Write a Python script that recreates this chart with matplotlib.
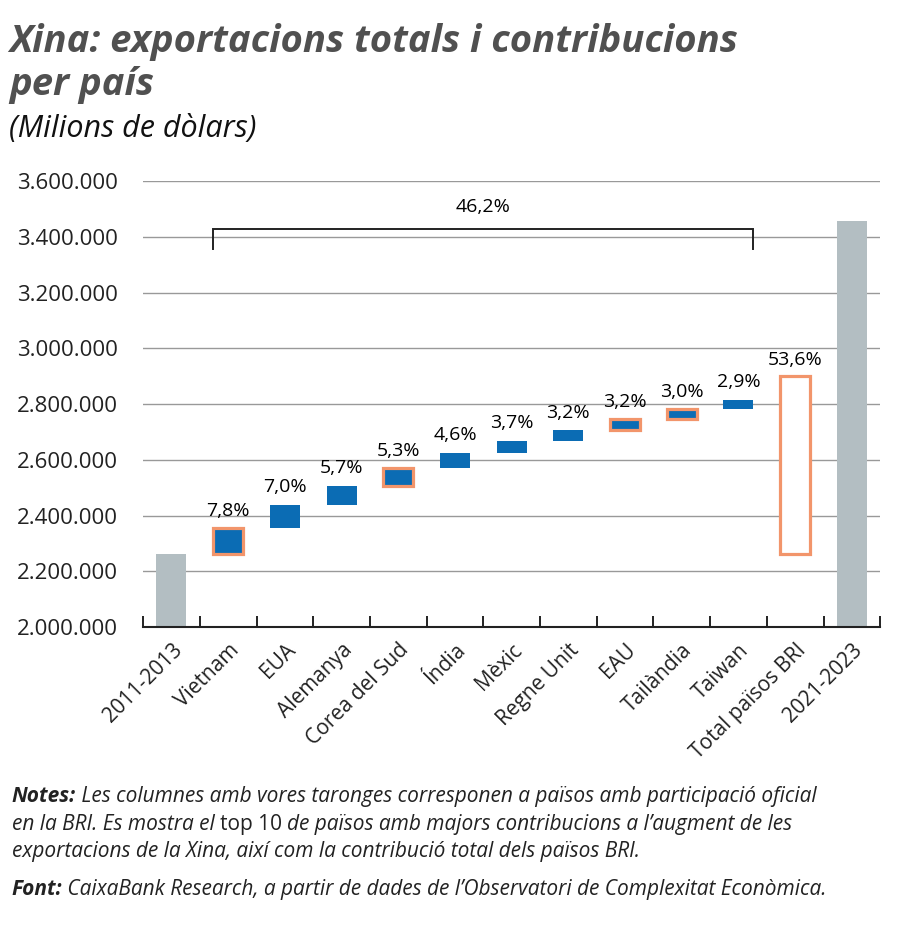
import numpy as np
import matplotlib
matplotlib.use("Agg")
import matplotlib.pyplot as plt
from matplotlib import font_manager

# Dades (milions de dòlars)
categories = ['2011-2013', 'Vietnam', 'EUA', 'Alemanya', 'Corea del Sud', 'Índia',
              'Mèxic', 'Regne Unit', 'EAU', 'Tailàndia', 'Taiwan',
              'Total països BRI', '2021-2023']
start_value = 2262000
end_value = 3456000
countries = categories[1:11]
contrib = [93000, 84000, 68000, 63000, 55000, 44000, 38000, 38000, 36000, 35000]
pct_labels = ['7,8%', '7,0%', '5,7%', '5,3%', '4,6%', '3,7%', '3,2%', '3,2%', '3,0%', '2,9%']
bri_flag = [True, False, False, True, False, False, False, True, True, False]
bri_total = 639000
bri_label = '53,6%'
top10_label = '46,2%'
yticks = [2000000, 2200000, 2400000, 2600000, 2800000, 3000000, 3200000, 3400000, 3600000]

BLUE = '#0b6cb4'
ORANGE = '#f2956b'
GREY = '#b3bec2'

names = {f.name for f in font_manager.fontManager.ttflist}
base_font = 'Open Sans' if 'Open Sans' in names else 'DejaVu Sans'
plt.rcParams['font.family'] = [base_font, 'DejaVu Sans']


def fmt(v):
    return f"{v:,.0f}".replace(',', '.')


fig = plt.figure(figsize=(9, 9.27), dpi=100)
ax = fig.add_axes([0.159, 0.3236, 0.819, 0.4811])

x = np.arange(len(categories))
w = 0.53

# barres inicial i final
ax.bar(x[0], start_value, width=w, color=GREY, zorder=2)
ax.bar(x[-1], end_value, width=w, color=GREY, zorder=2)

# contribucions per país (cascada)
bottoms = start_value + np.concatenate([[0], np.cumsum(contrib)[:-1]])
for i in range(len(countries)):
    xi = x[i + 1]
    if bri_flag[i]:
        ax.bar(xi, contrib[i], bottom=bottoms[i], width=w, color=BLUE,
               edgecolor=ORANGE, linewidth=2.3, zorder=3)
    else:
        ax.bar(xi, contrib[i], bottom=bottoms[i], width=w, color=BLUE, zorder=3)
    ax.annotate(pct_labels[i], (xi, bottoms[i] + contrib[i]), xytext=(0, 6),
                textcoords='offset points', ha='center', va='bottom', fontsize=14)

# total països BRI
ax.bar(x[11], bri_total, bottom=start_value, width=w, color='white',
       edgecolor=ORANGE, linewidth=2.3, zorder=3)
ax.annotate(bri_label, (x[11], start_value + bri_total), xytext=(0, 5),
            textcoords='offset points', ha='center', va='bottom', fontsize=14)

# claudàtor del top 10
xl, xr = x[1] - w / 2, x[10] + w / 2
ax.plot([xl, xl, xr, xr], [3357000, 3428000, 3428000, 3357000], color='#222222',
        lw=1.4, zorder=4, solid_joinstyle='miter')
ax.text((xl + xr) / 2, 3475000, top10_label, ha='center', va='bottom', fontsize=14)

# eixos
ax.set_xlim(-0.5, len(categories) - 0.5)
ax.set_ylim(2000000, 3600000)
ax.set_yticks(yticks)
ax.set_yticklabels([fmt(v) for v in yticks], fontsize=16, color='#222222')
ax.yaxis.grid(True, color='#999999', lw=1)
ax.set_axisbelow(True)
ax.tick_params(axis='y', length=0, pad=18)
for s in ['left', 'right', 'top']:
    ax.spines[s].set_visible(False)
ax.spines['bottom'].set_color('#222222')
ax.spines['bottom'].set_linewidth(1.5)
ax.spines['bottom'].set_zorder(5)

ax.set_xticks(x)
ax.set_xticklabels(categories, rotation=45, ha='right', rotation_mode='anchor',
                   fontsize=15, color='#222222')
ax.tick_params(axis='x', length=0, pad=9)
ax.set_xticks(np.arange(-0.5, len(categories)), minor=True)
ax.tick_params(axis='x', which='minor', direction='in', length=8, width=1.4, color='#222222')

# títols
fig.text(0.010, 0.944, 'Xina: exportacions totals i contribucions',
         fontsize=27.5, fontweight='bold', style='italic', color='#505050', va='baseline')
fig.text(0.010, 0.898, 'per país',
         fontsize=27.5, fontweight='bold', style='italic', color='#505050', va='baseline')
fig.text(0.010, 0.852, '(Milions de dòlars)',
         fontsize=22, style='italic', color='#111111', va='baseline')

# notes
renderer = fig.canvas.get_renderer()


def rich_line(x0, y0, parts):
    xx = x0
    for s, st, wt in parts:
        t = fig.text(xx, y0, s, fontsize=15, style=st, fontweight=wt,
                     color='#222222', va='baseline')
        bb = t.get_window_extent(renderer)
        xx += bb.width / fig.bbox.width


rich_line(0.013, 0.135, [('Notes:', 'italic', 'bold'),
                         (' Les columnes amb vores taronges corresponen a països amb participació oficial', 'italic', 'normal')])
rich_line(0.013, 0.105, [('en la BRI. Es mostra el ', 'italic', 'normal'),
                         ('top 10 ', 'normal', 'normal'),
                         ('de països amb majors contribucions a l’augment de les', 'italic', 'normal')])
rich_line(0.013, 0.075, [('exportacions de la Xina, així com la contribució total dels països BRI.', 'italic', 'normal')])
rich_line(0.013, 0.035, [('Font:', 'italic', 'bold'),
                         (' CaixaBank Research, a partir de dades de l’Observatori de Complexitat Econòmica.', 'italic', 'normal')])

fig.savefig('out.png', dpi=100)
